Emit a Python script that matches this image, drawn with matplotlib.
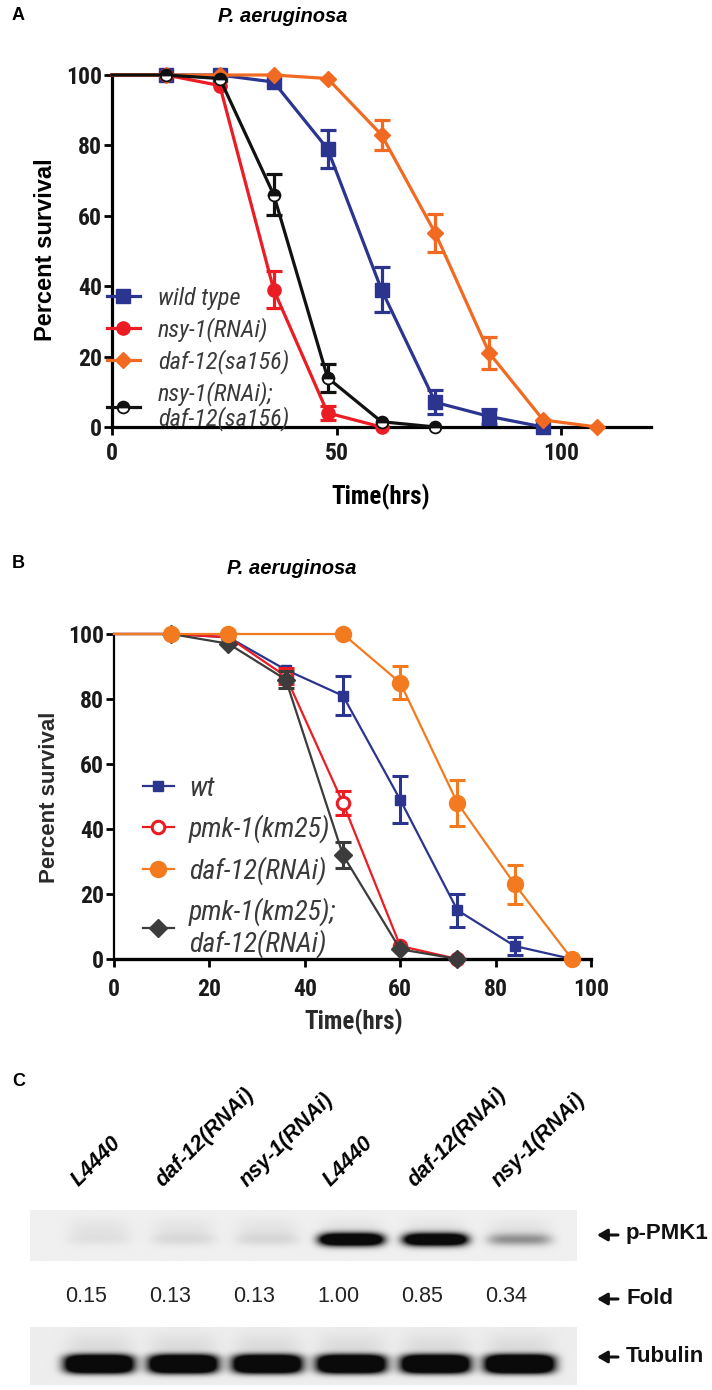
import numpy as np
import matplotlib
matplotlib.use('Agg')
import matplotlib.pyplot as plt
from matplotlib.lines import Line2D
from matplotlib.font_manager import FontProperties, fontManager
from matplotlib.transforms import blended_transform_factory

# ---------------- data ----------------
# Panel A
time_wt_A = [0, 12, 24, 36, 48, 60, 72, 84, 96]
surv_wt_A = [100, 100, 100, 98, 79, 39, 7, 3, 0]
err_wt_A = [0, 0, 0, 0, 5.4, 6.4, 3.4, 2.1, 0]

time_nsy_A = [0, 12, 24, 36, 48, 60]
surv_nsy_A = [100, 100, 97, 39, 4, 0]
err_nsy_A = [0, 0, 0, 5.2, 1.9, 0]

time_daf_A = [0, 12, 24, 36, 48, 60, 72, 84, 96, 108]
surv_daf_A = [100, 100, 100, 100, 99, 83, 55, 21, 2, 0]
err_daf_A = [0, 0, 0, 0, 0, 4.3, 5.4, 4.5, 0, 0]

time_dbl_A = [0, 12, 24, 36, 48, 60, 72]
surv_dbl_A = [100, 100, 99, 66, 14, 1.5, 0]
err_dbl_A = [0, 0, 0, 5.9, 4.0, 0, 0]

labels_A = ['wild type', 'nsy-1(RNAi)', 'daf-12(sa156)', 'nsy-1(RNAi);\ndaf-12(sa156)']
xticks_A = [0, 50, 100]
yticks = [0, 20, 40, 60, 80, 100]

# Panel B
time_wt_B = [0, 12, 24, 36, 48, 60, 72, 84, 96]
surv_wt_B = [100, 100, 99, 89, 81, 49, 15, 4, 0]
err_wt_B = [0, 0, 0, 0, 6.0, 7.3, 5.1, 2.9, 0]

time_pmk_B = [0, 12, 24, 36, 48, 60, 72]
surv_pmk_B = [100, 100, 99, 87, 48, 4, 0]
err_pmk_B = [0, 0, 0, 2.5, 3.8, 0, 0]

time_daf_B = [0, 12, 24, 48, 60, 72, 84, 96]
surv_daf_B = [100, 100, 100, 100, 85, 48, 23, 0]
err_daf_B = [0, 0, 0, 0, 5.1, 7.1, 6.0, 0]

time_dbl_B = [0, 12, 24, 36, 48, 60, 72]
surv_dbl_B = [100, 100, 97, 86, 32, 3, 0]
err_dbl_B = [0, 0, 0, 2.5, 4.0, 0, 0]

labels_B = ['wt', 'pmk-1(km25)', 'daf-12(RNAi)', 'pmk-1(km25);\ndaf-12(RNAi)']
xticks_B = [0, 20, 40, 60, 80, 100]

# Panel C
lanes = ['L4440', 'daf-12(RNAi)', 'nsy-1(RNAi)', 'L4440', 'daf-12(RNAi)', 'nsy-1(RNAi)']
fold = [0.15, 0.13, 0.13, 1.00, 0.85, 0.34]
pmk_band = [0.04, 0.07, 0.08, 1.8, 1.7, 0.36]
tub_band = [1.8, 1.8, 1.8, 1.8, 1.8, 1.9]

# ---------------- fonts ----------------
_fonts = fontManager.ttflist
_names = {f.name for f in _fonts}


def pick_narrow():
    for name in ['Liberation Sans Narrow', 'Arial Narrow', 'Roboto Condensed',
                 'Open Sans Condensed', 'Noto Sans Condensed', 'DejaVu Sans Condensed']:
        if name in _names:
            return [name, 'Liberation Sans', 'DejaVu Sans'], 'normal'
    for fam in ['Noto Sans', 'Open Sans', 'Roboto', 'DejaVu Sans']:
        st = {str(f.stretch) for f in _fonts if f.name == fam}
        for s in ['condensed', 'semi-condensed']:
            if s in st:
                return [fam, 'DejaVu Sans'], s
    return ['Liberation Sans', 'DejaVu Sans'], 'normal'


NARROW, NSTRETCH = pick_narrow()
SANS = ['Liberation Sans', 'DejaVu Sans']


def nfont(size, weight='bold', style='normal'):
    return FontProperties(family=NARROW, stretch=NSTRETCH, weight=weight,
                          style=style, size=size)


# ---------------- figure ----------------
W, H = 712, 1390
fig = plt.figure(figsize=(W / 100, H / 100), dpi=100)


def fx(x):
    return x / W


def fy(y):
    return 1 - y / H


NAVY = '#2B3590'
RED = '#EC1C24'
ORANGE = '#F26A21'
ORANGE_B = '#F47A20'
BLACK = '#111111'
DARK = '#3C3C3C'
LEGTXT = '#3A3A3A'


def series(ax, t, y, err, color, lw, elw, cap, z, **mk):
    t = np.asarray(t, float)
    y = np.asarray(y, float)
    err = np.asarray(err, float)
    ax.plot(t, y, color=color, lw=lw, zorder=z, clip_on=False, solid_joinstyle='round')
    m = err > 0
    ax.errorbar(t[m], y[m], yerr=err[m], fmt='none', ecolor=color, elinewidth=elw,
                capsize=cap, capthick=elw, zorder=z + 0.05, clip_on=False)
    ax.plot(t[1:], y[1:], ls='none', zorder=z + 0.1, clip_on=False, **mk)
    return Line2D([0], [0], color=color, lw=lw, **mk)


def style_axes(ax, xlim, xticks, lw_left, lw_bottom, fs, xpad):
    ax.set_xlim(*xlim)
    ax.set_ylim(0, 100)
    for s in ['top', 'right']:
        ax.spines[s].set_visible(False)
    ax.spines['left'].set_linewidth(lw_left)
    ax.spines['bottom'].set_linewidth(lw_bottom)
    ax.set_xticks(xticks)
    ax.set_yticks(yticks)
    ax.tick_params(axis='both', direction='out', length=6, width=2.0, colors='black')
    ax.tick_params(axis='y', pad=1)
    ax.tick_params(axis='x', pad=xpad)
    fp = nfont(fs)
    for lab in ax.get_xticklabels() + ax.get_yticklabels():
        lab.set_fontproperties(fp)
        lab.set_color('#1a1a1a')
    ax.patch.set_visible(False)


# ---------------- Panel A ----------------
axA = fig.add_axes([fx(112), fy(427), (651 - 112) / W, (427 - 75) / H])
hA = []
hA.append(series(axA, time_wt_A, surv_wt_A, err_wt_A, NAVY, 2.3, 2.3, 6, 3,
                 marker='s', ms=9.5, mfc=NAVY, mec=NAVY))
hA.append(series(axA, time_nsy_A, surv_nsy_A, err_nsy_A, RED, 2.3, 2.3, 6, 3.2,
                 marker='o', ms=9.5, mfc=RED, mec=RED))
hA.append(series(axA, time_daf_A, surv_daf_A, err_daf_A, ORANGE, 2.3, 2.3, 6, 3.4,
                 marker='D', ms=8.5, mfc=ORANGE, mec=ORANGE))
hA.append(series(axA, time_dbl_A, surv_dbl_A, err_dbl_A, BLACK, 2.3, 2.3, 6, 3.6,
                 marker='o', ms=8.5, fillstyle='top', mfc=BLACK, mfcalt='white',
                 mec=BLACK, mew=1.3))
style_axes(axA, (0, 120), xticks_A, 2.3, 2.3, 17, 5)

legA = axA.legend(hA, labels_A, loc='upper left',
                  bbox_to_anchor=(fx(107), fy(287)), bbox_transform=fig.transFigure,
                  frameon=False, borderpad=0, borderaxespad=0, handlelength=1.35,
                  handletextpad=0.75, labelspacing=0.3,
                  prop=nfont(17.5, weight='normal', style='italic'))
for t in legA.get_texts():
    t.set_color(LEGTXT)
    t.set_linespacing(0.98)

fig.text(fx(12), fy(15), 'A', fontfamily=SANS, fontweight='bold', fontsize=13,
         ha='left', va='center')
fig.text(fx(283), fy(16), 'P. aeruginosa', fontfamily=SANS, fontweight='bold',
         fontstyle='italic', fontsize=14.5, ha='center', va='center')
fig.text(fx(46), fy(250), 'Percent survival', fontfamily=SANS, fontweight='bold',
         fontsize=17, rotation=90, ha='center', va='center')
fig.text(fx(381), fy(497), 'Time(hrs)', fontproperties=nfont(18), ha='center',
         va='center')

# ---------------- Panel B ----------------
axB = fig.add_axes([fx(114), fy(959), (591 - 114) / W, (959 - 634) / H])
hB = [None] * 4
hB[0] = series(axB, time_wt_B, surv_wt_B, err_wt_B, NAVY, 1.6, 2.2, 6, 3,
               marker='s', ms=7.5, mfc=NAVY, mec=NAVY)
hB[1] = series(axB, time_pmk_B, surv_pmk_B, err_pmk_B, RED, 1.6, 2.2, 6, 3.2,
               marker='o', ms=9, mfc='white', mec=RED, mew=2.2)
hB[3] = series(axB, time_dbl_B, surv_dbl_B, err_dbl_B, DARK, 1.6, 2.2, 6, 3.4,
               marker='D', ms=9, mfc=DARK, mec=DARK)
hB[2] = series(axB, time_daf_B, surv_daf_B, err_daf_B, ORANGE_B, 1.6, 2.2, 6, 3.6,
               marker='o', ms=11.5, mfc=ORANGE_B, mec=ORANGE_B)
style_axes(axB, (0, 100), xticks_B, 1.6, 2.4, 17, 8)

legB = axB.legend(hB, labels_B, loc='upper left',
                  bbox_to_anchor=(fx(143), fy(776)), bbox_transform=fig.transFigure,
                  frameon=False, borderpad=0, borderaxespad=0, handlelength=1.1,
                  handletextpad=0.55, labelspacing=0.46,
                  prop=nfont(20, weight='normal', style='italic'))
for t in legB.get_texts():
    t.set_color(LEGTXT)
    t.set_linespacing(1.12)

fig.text(fx(12), fy(563), 'B', fontfamily=SANS, fontweight='bold', fontsize=13,
         ha='left', va='center')
fig.text(fx(292), fy(568), 'P. aeruginosa', fontfamily=SANS, fontweight='bold',
         fontstyle='italic', fontsize=14.5, ha='center', va='center')
fig.text(fx(50), fy(797), 'Percent survival', fontfamily=SANS, fontweight='bold',
         fontsize=16, rotation=90, ha='center', va='center', color='#2a2a2a')
fig.text(fx(354), fy(1022), 'Time(hrs)', fontproperties=nfont(18), ha='center',
         va='center', color='#2a2a2a')

# ---------------- Panel C ----------------
fig.text(fx(12), fy(1082), 'C', fontfamily=SANS, fontweight='bold', fontsize=13,
         ha='left', va='center')

xl = (-0.82, 5.68)
gx = np.linspace(xl[0], xl[1], 1100)


def blot_image(amps, yc, wy, wx, px, py, bg, nrows, haze=0.0, haze_dy=0.2):
    gy = np.linspace(0, 1, nrows)
    X, Y = np.meshgrid(gx, gy)
    dark = np.zeros_like(X)
    for i, a in enumerate(amps):
        dark += a * np.exp(-np.abs((X - i) / wx) ** px - np.abs((Y - yc) / wy) ** py)
        if haze:
            dark += haze * np.exp(-np.abs((X - i) / (wx * 0.95)) ** 4
                                  - np.abs((Y - (yc - haze_dy)) / 0.22) ** 2)
    return np.clip(bg - dark, 0.04, 1.0)


axP = fig.add_axes([fx(30), fy(1261), 546 / W, 51 / H])
imgP = blot_image(pmk_band, 0.58, 0.12, 0.38, 5, 2, 0.94, 120, haze=0.05, haze_dy=0.2)
axP.imshow(imgP, cmap='gray', vmin=0, vmax=1, aspect='auto', interpolation='bilinear',
           extent=(xl[0], xl[1], 1, 0))
axP.set_xlim(*xl)
axP.set_ylim(1, 0)
axP.axis('off')

axT = fig.add_axes([fx(30), fy(1385), 546 / W, 58 / H])
imgT = blot_image(tub_band, 0.64, 0.16, 0.41, 5, 3, 0.93, 140, haze=0.07, haze_dy=0.3)
axT.imshow(imgT, cmap='gray', vmin=0, vmax=1, aspect='auto', interpolation='bilinear',
           extent=(xl[0], xl[1], 1, 0))
axT.set_xlim(*xl)
axT.set_ylim(1, 0)
axT.axis('off')

trL = blended_transform_factory(axP.transData, fig.transFigure)
for i, name in enumerate(lanes):
    fig.text(i - 0.24, fy(1187), name, transform=trL, rotation=45,
             rotation_mode='anchor', ha='left', va='baseline', fontfamily=SANS,
             fontweight='bold', fontstyle='italic', fontsize=15.5)
    fig.text(i - 0.15, fy(1296), f'{fold[i]:.2f}', transform=trL, ha='center',
             va='center', fontfamily=SANS, fontsize=15.5, color='#222222')

for y, s in [(1234, 'p-PMK1'), (1298, 'Fold'), (1356, 'Tubulin')]:
    fig.add_artist(matplotlib.patches.FancyArrowPatch(
        (fx(618), fy(y + 1)), (fx(597), fy(y + 1)), transform=fig.transFigure,
        arrowstyle='-|>,head_length=6,head_width=3.5', lw=2.2, color='#111111',
        shrinkA=0, shrinkB=0, mutation_scale=1))
    fig.text(fx(626), fy(y), s, fontfamily=SANS, fontweight='bold',
             fontsize=16, ha='left', va='center', color='#111111')

fig.savefig('out.png', dpi=100)
